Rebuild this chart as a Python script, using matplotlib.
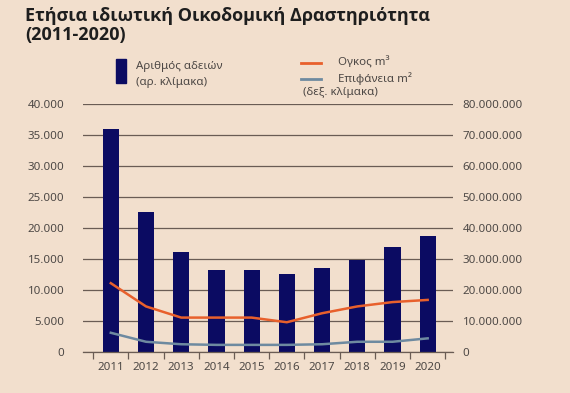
import numpy as np
import matplotlib.pyplot as plt
from matplotlib.ticker import FuncFormatter

plt.rcParams['font.family'] = ['Noto Sans', 'DejaVu Sans']

years = ['2011', '2012', '2013', '2014', '2015', '2016', '2017', '2018', '2019', '2020']
permits = [36000, 22500, 16150, 13250, 13250, 12650, 13550, 14900, 17000, 18700]
volume_m3 = [22.2e6, 14.7e6, 11.1e6, 11.1e6, 11.1e6, 9.6e6, 12.5e6, 14.7e6, 16.1e6, 16.8e6]
area_m2 = [6.2e6, 3.3e6, 2.5e6, 2.3e6, 2.3e6, 2.3e6, 2.5e6, 3.3e6, 3.3e6, 4.4e6]

bg = '#f2dfcd'
navy = '#0b0b62'
orange = '#e8602c'
steel = '#6e8aa0'
txt = '#4d4845'
gridc = '#6a5c54'


def dots(v, pos):
    return f'{int(round(v)):,}'.replace(',', '.')


fig = plt.figure(figsize=(5.7, 3.93), dpi=100, facecolor=bg)
ax = fig.add_axes([83 / 570, 1 - 352 / 393, 370 / 570, 248 / 393])
ax.set_facecolor(bg)
x = np.arange(len(years))

ax.bar(x, permits, width=0.46, color=navy, zorder=2)
ax.set_ylim(0, 40000)
ax.set_xlim(-0.79, 9.72)
ax.set_yticks(np.arange(0, 40001, 5000))
ax.yaxis.set_major_formatter(FuncFormatter(dots))
ax.grid(axis='y', color=gridc, lw=0.9, zorder=1)
ax.set_xticks(x)
ax.set_xticklabels(years)
ax.set_xticks(np.arange(-0.5, 10, 1), minor=True)
ax.tick_params(axis='x', which='major', length=0, pad=7, labelsize=8.3, labelcolor=txt)
ax.tick_params(axis='x', which='minor', length=5, width=0.9, color=gridc, direction='out')
ax.tick_params(axis='y', length=0, pad=13.5, labelsize=8.3, labelcolor=txt)
for s in ['top', 'right', 'left']:
    ax.spines[s].set_visible(False)
ax.spines['bottom'].set_color(gridc)
ax.spines['bottom'].set_linewidth(0.9)

ax2 = ax.twinx()
ax2.plot(x, volume_m3, color=orange, lw=1.8, solid_joinstyle='round', zorder=3)
ax2.plot(x, area_m2, color=steel, lw=1.8, solid_joinstyle='round', zorder=3)
ax2.set_ylim(0, 80e6)
ax2.set_yticks(np.arange(0, 80e6 + 1, 10e6))
ax2.yaxis.set_major_formatter(FuncFormatter(dots))
ax2.tick_params(axis='y', length=0, pad=7, labelsize=8.3, labelcolor=txt)
for s in ax2.spines.values():
    s.set_visible(False)

# title
tfont = dict(fontsize=13, fontweight='bold', color='#1e1e1e', va='baseline',
             family=['Open Sans', 'DejaVu Sans'])
fig.text(25 / 570, 1 - 21 / 393, 'Ετήσια ιδιωτική Οικοδομική Δραστηριότητα', **tfont)
fig.text(25 / 570, 1 - 40 / 393, '(2011-2020)', **tfont)

# legend drawn by hand
fig.patches.append(plt.Rectangle((116 / 570, 1 - 83 / 393), 10 / 570, 24 / 393,
                                 transform=fig.transFigure, color=navy))
fig.text(136 / 570, 1 - 67 / 393, 'Αριθμός αδειών', fontsize=8.3, color=txt, va='center')
fig.text(136 / 570, 1 - 82 / 393, '(αρ. κλίμακα)', fontsize=8.3, color=txt, va='center')
fig.lines.append(plt.Line2D([301 / 570, 321 / 570], [1 - 63 / 393] * 2,
                            transform=fig.transFigure, color=orange, lw=2))
fig.lines.append(plt.Line2D([301 / 570, 321 / 570], [1 - 79 / 393] * 2,
                            transform=fig.transFigure, color=steel, lw=2))
fig.text(338 / 570, 1 - 63 / 393, 'Ογκος m³', fontsize=8.3, color=txt, va='center')
fig.text(338 / 570, 1 - 79 / 393, 'Επιφάνεια m²', fontsize=8.3, color=txt, va='center')
fig.text(303 / 570, 1 - 93 / 393, '(δεξ. κλίμακα)', fontsize=8.3, color=txt, va='center')

fig.savefig('out.png', dpi=100, facecolor=bg)
